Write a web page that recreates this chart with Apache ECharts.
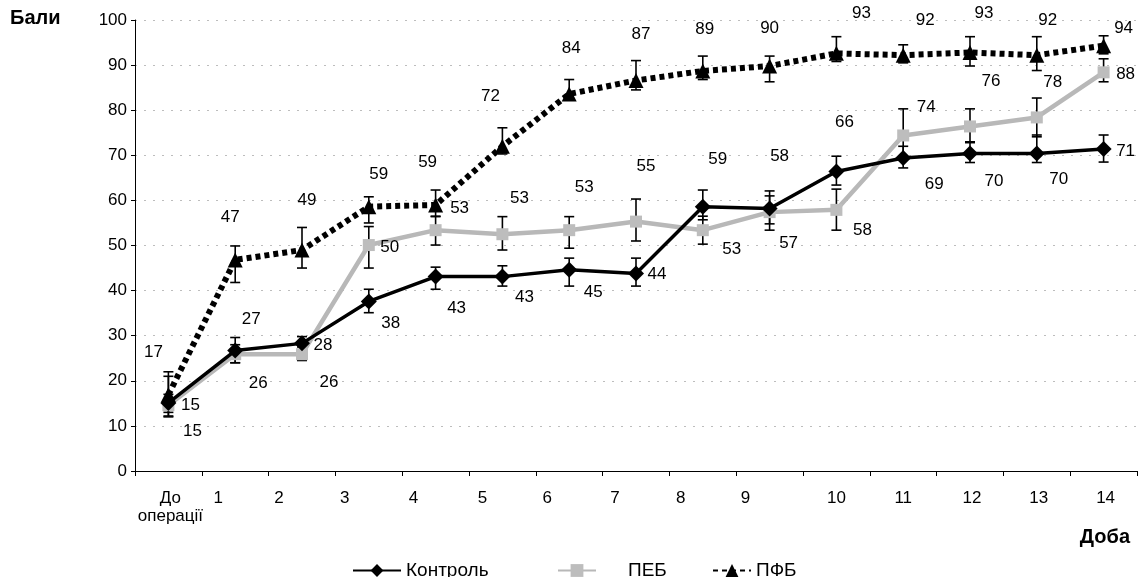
<!DOCTYPE html>
<html>
<head>
<meta charset="utf-8">
<script src="https://cdn.jsdelivr.net/npm/echarts@6/dist/echarts.min.js"></script>
<style>
  html, body { margin: 0; padding: 0; background: #fff; }
  #chart { width: 1144px; height: 577px; }
</style>
</head>
<body>
<div id="chart"></div>
<script>
const days = ['До\nоперації', '1', '2', '3', '4', '5', '6', '7', '8', '9', '10', '11', '12', '13', '14'];

const kontrol     = [15.1, 26.7, 28.3, 37.6, 43.1, 43.1, 44.6, 43.8, 58.6, 58.2, 66.4, 69.4, 70.4, 70.4, 71.4];
const kontrolLow  = [12.2, 24.0, 26.0, 35.1, 40.3, 41.0, 41.0, 41.0, 55.7, 54.8, 63.4, 67.2, 68.4, 68.4, 68.5];
const kontrolHigh = [21.0, 29.6, 29.8, 40.3, 45.2, 45.5, 47.2, 47.2, 62.3, 62.1, 69.8, 72.0, 73.0, 74.5, 74.5];

const peb     = [14.6, 25.9, 25.9, 50.1, 53.4, 52.5, 53.4, 55.3, 53.4, 57.4, 57.9, 74.4, 76.4, 78.4, 88.4];
const pebLow  = [13.0, 24.0, 24.5, 45.0, 50.1, 49.0, 49.4, 51.0, 50.3, 53.4, 53.4, 69.5, 72.8, 74.1, 86.3];
const pebHigh = [17.0, 28.0, 27.5, 54.2, 56.5, 56.4, 56.4, 60.3, 56.5, 61.0, 62.5, 80.3, 80.3, 82.7, 91.4];

const pfb     = [16.9, 46.8, 49.0, 58.6, 59.0, 72.0, 83.6, 86.6, 88.7, 89.8, 92.6, 92.2, 92.8, 92.2, 94.3];
const pfbLow  = [12.0, 41.8, 45.0, 55.0, 56.4, 70.3, 82.4, 84.5, 86.8, 86.3, 90.8, 90.5, 89.8, 88.8, 92.5];
const pfbHigh = [22.0, 49.9, 54.0, 60.8, 62.3, 76.1, 86.8, 91.0, 92.0, 92.0, 96.3, 94.5, 96.3, 96.3, 96.5];

// where each value label sits relative to its point, px
const kontrolLabelShift = [[22,2],[16,-31],[21,2],[22,22],[21,32],[22,21],[24,22],[21,1],[15,-47],[10,-52],[8,-49],[31,26],[24,28],[22,26],[22,2]];
const pebLabelShift = [[24,26],[23,29],[27,28],[21,2],[24,-22],[17,-36],[15,-43],[10,-55],[29,19],[19,31],[26,20],[23,-28],[21,-45],[16,-35],[22,2]];
const pfbLabelShift = [[-15,-42],[-5,-43],[5,-50],[10,-32],[-8,-43],[-12,-50],[2,-46],[5,-46],[2,-42],[0,-38],[25,-40],[22,-35],[14,-39],[11,-35],[20,-17]];
// horizontal shift of the day labels under the axis
const xLabelShift = [2, -17, -23, -24, -22, -20, -22, -21, -22, -24, 0, 0, 2, 2, 2];

const font = 'Liberation Sans, Arial, sans-serif';

const xRich = {};
xLabelShift.forEach((s, i) => {
  xRich['s' + i] = {
    fontSize: 17, fontFamily: font, color: '#000', lineHeight: 18,
    padding: s < 0 ? [0, -2 * s, 0, 0] : [0, 0, 0, 2 * s]
  };
});

function withLabels(values, shifts) {
  return values.map((v, i) => ({value: v, label: {offset: shifts[i]}}));
}

function errorBars(name, low, high) {
  return {
    type: 'custom',
    name: name,
    z: 3,
    silent: true,
    data: low.map((l, i) => [i, l, high[i]]),
    encode: {x: 0, y: [1, 2]},
    renderItem: (params, api) => {
      const i = api.value(0);
      const top = api.coord([i, api.value(2)]);
      const bot = api.coord([i, api.value(1)]);
      const w = 5;
      const st = {stroke: '#000', lineWidth: 1.6};
      return {
        type: 'group',
        children: [
          {type: 'line', shape: {x1: top[0], y1: top[1], x2: bot[0], y2: bot[1]}, style: st},
          {type: 'line', shape: {x1: top[0] - w, y1: top[1], x2: top[0] + w, y2: top[1]}, style: st},
          {type: 'line', shape: {x1: bot[0] - w, y1: bot[1], x2: bot[0] + w, y2: bot[1]}, style: st}
        ]
      };
    }
  };
}

const valueLabel = {
  show: true,
  position: 'inside',
  fontSize: 17,
  fontFamily: font,
  color: '#000',
  formatter: (p) => Math.round(p.value)
};

const legendText = {fontSize: 19, fontFamily: font, color: '#000'};

const myChart = echarts.init(document.getElementById('chart'));
const option = {
  animation: false,
  backgroundColor: '#fff',
  grid: {left: 135, right: 7, top: 20, bottom: 106},
  legend: [
    {left: 347, top: 556, itemWidth: 48, itemHeight: 16, data: ['Контроль'], textStyle: legendText},
    {left: 552, top: 556, itemWidth: 38, itemHeight: 16, data: ['ПЕБ'],
      textStyle: Object.assign({padding: [0, 0, 0, 27]}, legendText)},
    {left: 707, top: 556, itemWidth: 38, itemHeight: 16, data: ['ПФБ'], textStyle: legendText}
  ],
  xAxis: {
    type: 'category',
    data: days,
    boundaryGap: true,
    axisLine: {lineStyle: {color: '#000', width: 1}},
    axisTick: {show: true, interval: 0, length: 5, lineStyle: {color: '#000'}},
    axisLabel: {
      interval: 0,
      margin: 18,
      formatter: (v, i) => v.split('\n').map((t) => '{s' + i + '|' + t + '}').join('\n'),
      rich: xRich
    },
    splitLine: {show: false}
  },
  yAxis: {
    type: 'value',
    min: 0,
    max: 100,
    interval: 10,
    axisLine: {show: true, lineStyle: {color: '#000', width: 1}},
    axisTick: {show: true, length: 4, lineStyle: {color: '#000'}},
    axisLabel: {fontSize: 17, fontFamily: font, color: '#000', margin: 8},
    splitLine: {show: true, lineStyle: {color: '#bdbdbd', type: [2, 7], width: 1}}
  },
  graphic: [
    {type: 'text', left: 10, top: 8,
      style: {text: 'Бали', font: 'bold 20px ' + font, fill: '#000'}},
    {type: 'text', right: 14, top: 527,
      style: {text: 'Доба', font: 'bold 20px ' + font, fill: '#000'}}
  ],
  series: [
    errorBars('err-kontrol', kontrolLow, kontrolHigh),
    errorBars('err-peb', pebLow, pebHigh),
    errorBars('err-pfb', pfbLow, pfbHigh),
    {
      name: 'ПЕБ',
      type: 'line',
      z: 4,
      data: withLabels(peb, pebLabelShift),
      symbol: 'rect',
      symbolSize: 12,
      itemStyle: {color: '#bdbdbd'},
      lineStyle: {color: '#b8b8b8', width: 4.5},
      label: valueLabel
    },
    {
      name: 'Контроль',
      type: 'line',
      z: 5,
      data: withLabels(kontrol, kontrolLabelShift),
      symbol: 'diamond',
      symbolSize: 16,
      itemStyle: {color: '#000'},
      lineStyle: {color: '#000', width: 3.5},
      label: valueLabel
    },
    {
      name: 'ПФБ',
      type: 'line',
      z: 5,
      data: withLabels(pfb, pfbLabelShift),
      symbol: 'triangle',
      symbolSize: 15,
      itemStyle: {color: '#000'},
      lineStyle: {color: '#000', width: 6, type: [5, 4], cap: 'butt'},
      label: valueLabel
    }
  ]
};

myChart.setOption(option);
</script>
</body>
</html>
